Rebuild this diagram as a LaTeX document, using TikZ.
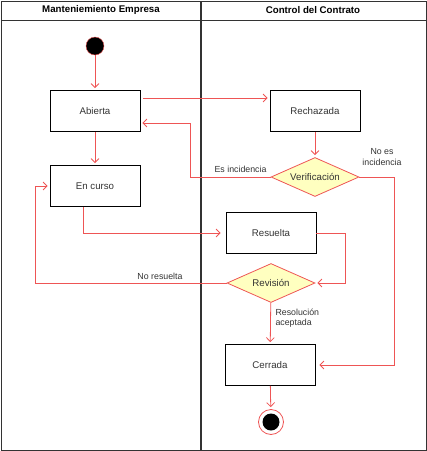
\documentclass[tikz,border=0pt]{standalone}
\usepackage{fontspec}
\setmainfont{Liberation Sans}
\usepackage{xcolor}
\usepackage{tikz}
\usetikzlibrary{arrows.meta,shapes.geometric}
\definecolor{flowred}{HTML}{EE5555}
\definecolor{decfill}{HTML}{FFFFC0}
\definecolor{lanegray}{HTML}{333333}

\begin{document}
\begin{tikzpicture}[x=1pt, y=-1pt,
  every node/.style={font=\fontsize{9.7}{11}\selectfont, text=lanegray},
  state/.style={draw=black, line width=0.8pt, minimum width=90pt, minimum height=41pt, inner sep=0pt},
  decision/.style={diamond, draw=flowred, fill=decfill, line width=0.8pt, aspect=2.3,
    minimum width=88pt, minimum height=39pt, inner sep=0pt},
  flow/.style={draw=flowred, line width=0.8pt, -{Straight Barb[length=4pt,width=8pt]}, shorten >=2pt},
  guard/.style={font=\fontsize{8.8}{10.5}\selectfont},
  header/.style={font=\fontsize{9.7}{11}\selectfont\bfseries, text=black},
  lane/.style={draw=lanegray, line width=1pt}]
  \useasboundingbox (0,0) rectangle (427,451);
  % swimlanes
  \draw[lane] (1,1) rectangle (426,450);
  \draw[lane] (1,20) -- (426,20);
  \draw[lane, line width=1.5pt] (201,1) -- (201,450);
  \node[header] (hdrmant) at (101,10) {Manteniemiento Empresa};
  \node[header] (hdrctrl) at (313,10) {Control del Contrato};
  % states
  \node[circle, fill=black, draw=flowred, minimum size=18pt, inner sep=0pt] (inicio) at (95,46) {};
  \node[state] (abierta) at (95,111) {Abierta};
  \node[state] (rechazada) at (315,111) {Rechazada};
  \node[decision] (verif) at (315,177) {Verificación};
  \node[state] (encurso) at (95,186) {En curso};
  \node[state] (resuelta) at (271,233) {Resuelta};
  \node[decision] (revision) at (271,283) {Revisión};
  \node[state] (cerrada) at (270,365) {Cerrada};
  \node[circle, draw=flowred, fill=white, line width=0.8pt, minimum size=25pt, inner sep=0pt] (fin) at (271,422) {};
  \node[circle, fill=black, minimum size=17pt, inner sep=0pt] (finin) at (fin) {};
  % transitions
  \draw[flow] (inicio) -- (abierta);
  \draw[flow, shorten <=3pt] ([yshift=13pt]abierta.east) -- ([yshift=13pt]rechazada.west);
  \draw[flow] (rechazada) -- (verif);
  \draw[flow] (verif.west) -| (190,123) -- ([yshift=-12pt]abierta.east);
  \draw[flow, shorten >=4pt] (verif.east) -| (394,365) -- (cerrada.east);
  \draw[flow] (abierta) -- (encurso);
  \draw[flow, shorten >=5pt] ([xshift=-12pt]encurso.south) |- (resuelta.west);
  \draw[flow] (resuelta.east) -| (345,283) -- (revision.east);
  \draw[flow] (revision.west) -| (35,186) -- (encurso.west);
  \draw[flow] (revision) -- (cerrada);
  \draw[flow] (cerrada) -- (fin);
  % guards
  \node[guard, anchor=east] (esinc) at (270,169) {Es incidencia};
  \node[guard, align=center] (noesinc) at (382,157) {No es\\incidencia};
  \node[guard] (noresu) at (160,276) {No resuelta};
  \node[guard, align=left, anchor=west] (resacep) at (272,318) {Resolución\\aceptada};
\end{tikzpicture}
\end{document}
